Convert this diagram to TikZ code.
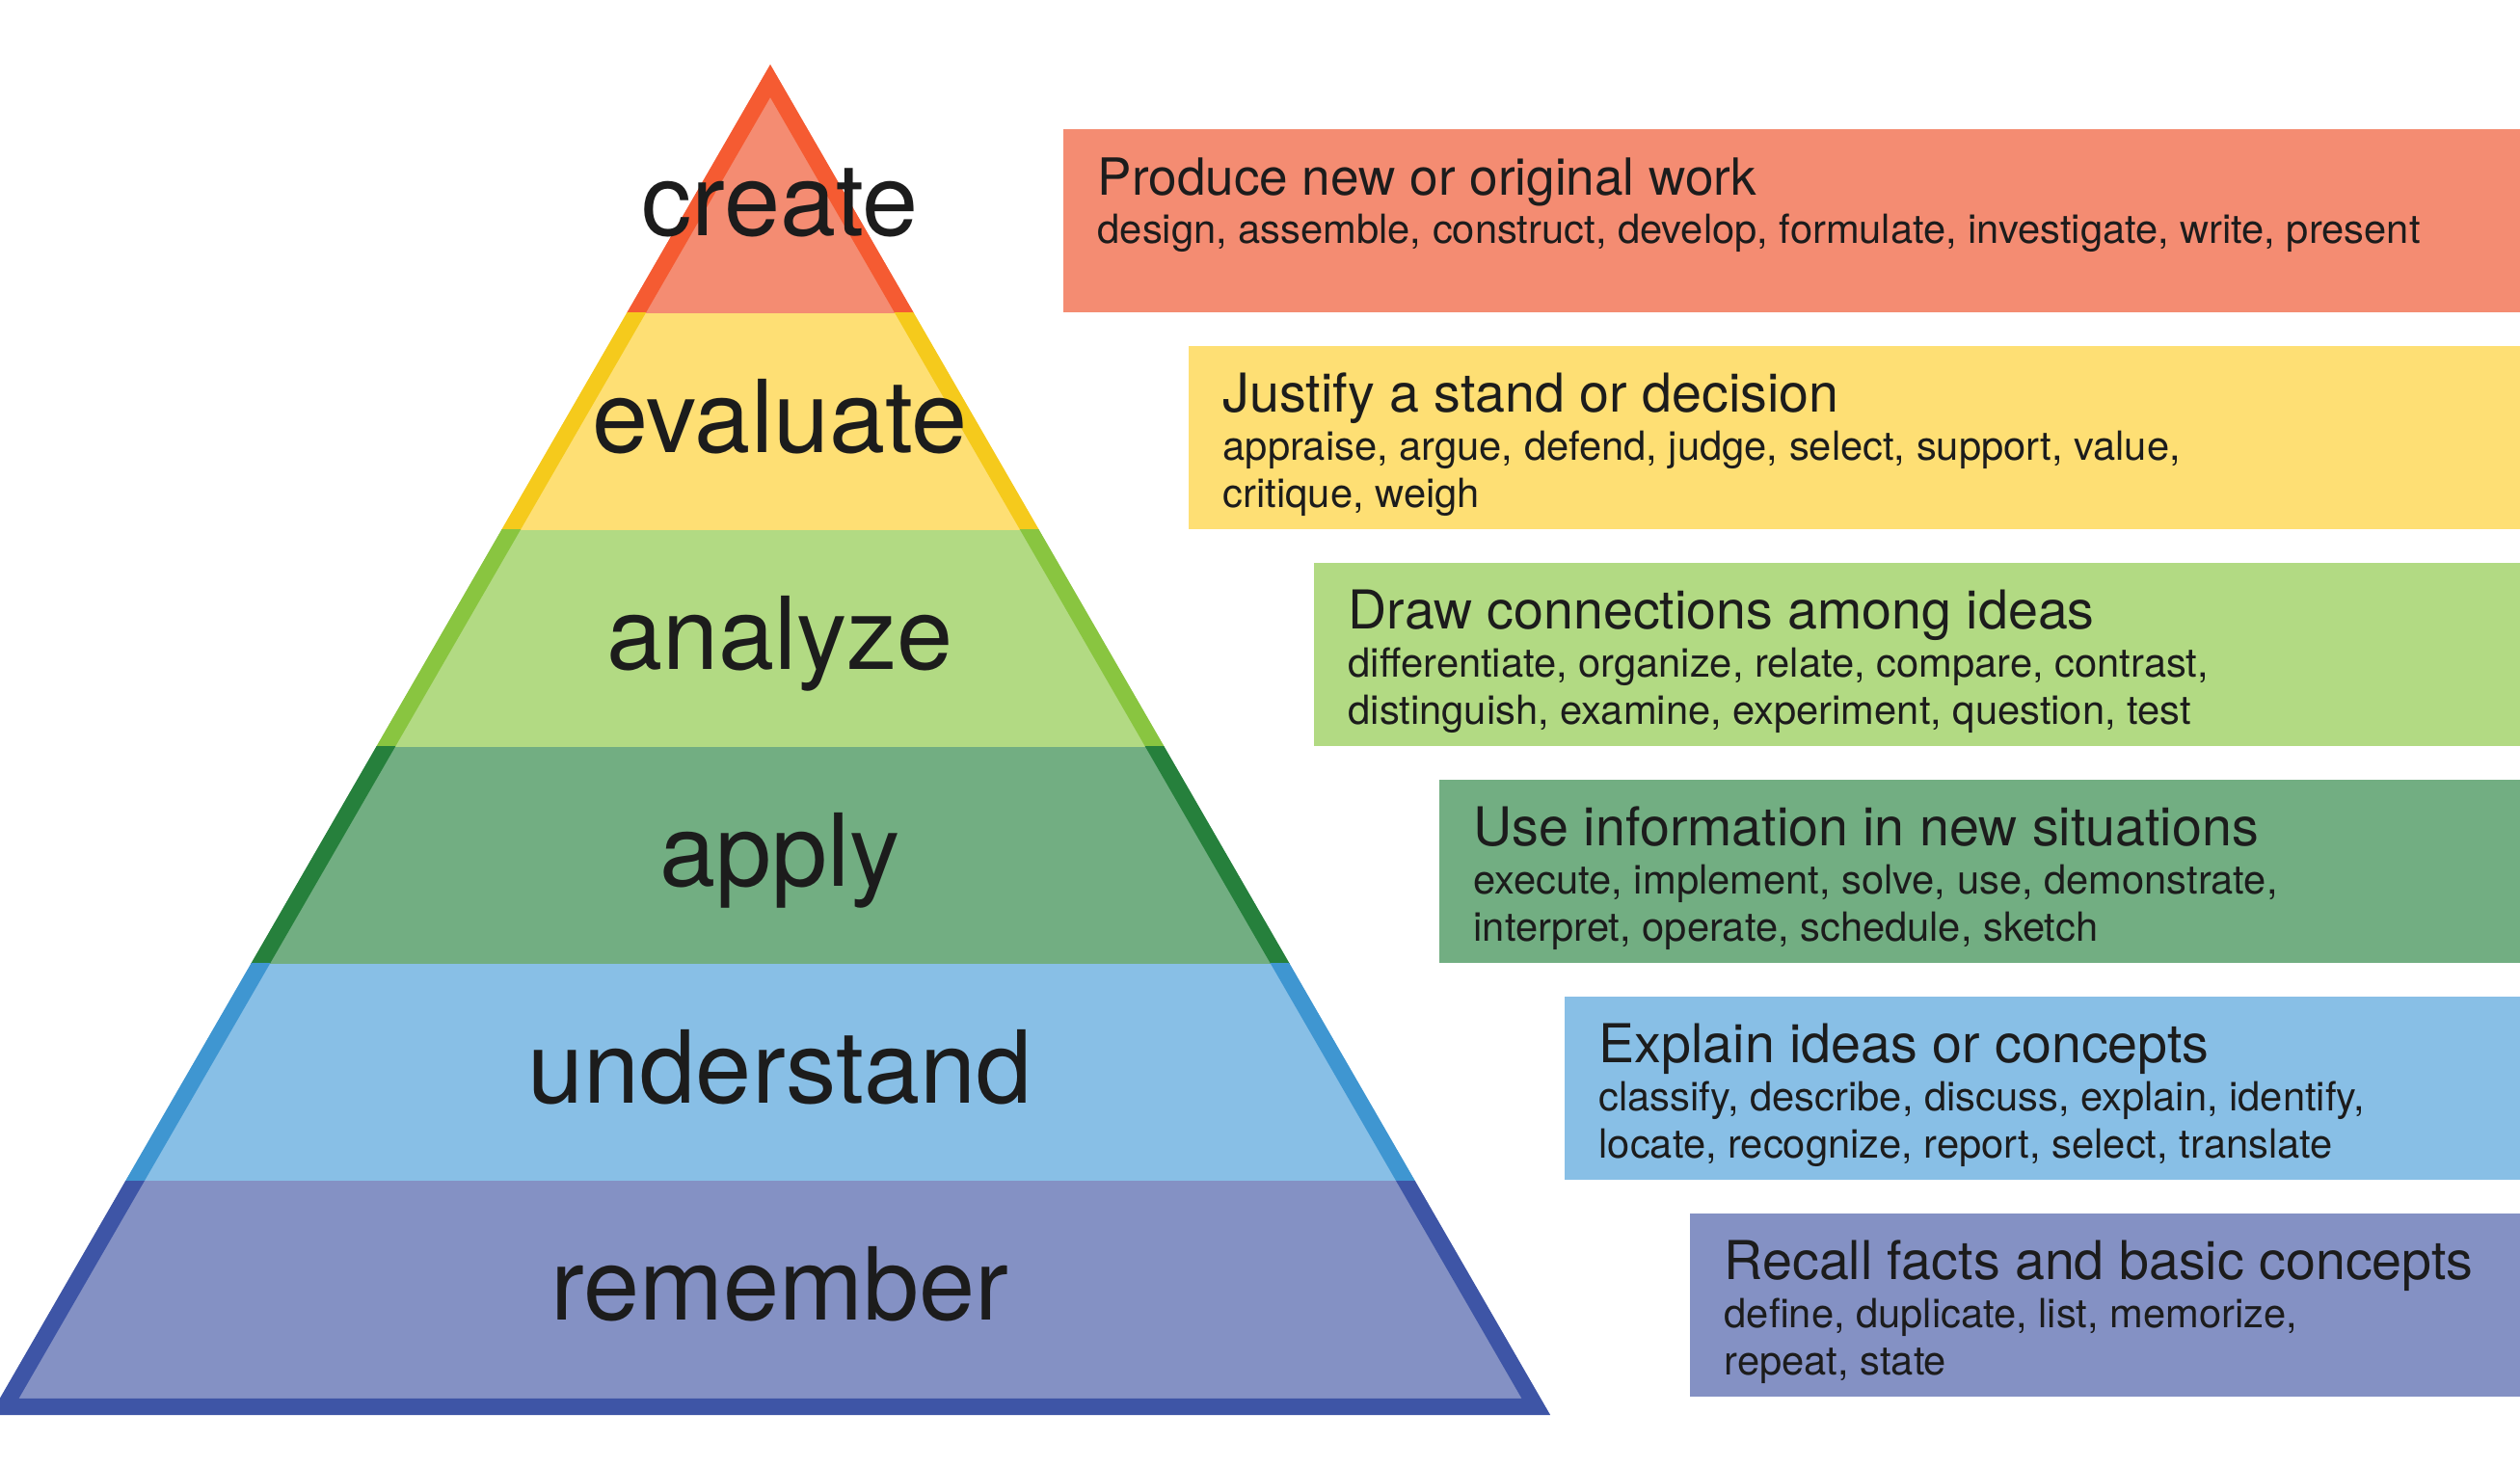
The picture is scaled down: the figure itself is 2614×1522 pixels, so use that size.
\documentclass[tikz,border=0pt]{standalone}
\usepackage{fontspec}
\setmainfont{TeX Gyre Heros}
\usetikzlibrary{
    calc,
    positioning
}
\definecolor{ink}{HTML}{1C1C1C}
\definecolor{createfill}{HTML}{F48C72}
\definecolor{createline}{HTML}{F55B32}
\definecolor{evaluatefill}{HTML}{FEDF74}
\definecolor{evaluateline}{HTML}{F5CA1C}
\definecolor{analyzefill}{HTML}{B2DA83}
\definecolor{analyzeline}{HTML}{89C540}
\definecolor{applyfill}{HTML}{72AE82}
\definecolor{applyline}{HTML}{26803C}
\definecolor{understandfill}{HTML}{88BFE6}
\definecolor{understandline}{HTML}{3F96D1}
\definecolor{rememberfill}{HTML}{8491C4}
\definecolor{rememberline}{HTML}{3E55A6}
\tikzset{
  level label/.style={
    font=\fontsize{29.7}{35}\selectfont,
    text=ink,
    anchor=base,
    inner sep=0pt
  },
  desc box/.style={
    anchor=south west,
    minimum height=1.90cm,
    inner sep=0pt
  },
  desc title/.style={
    font=\fontsize{#1}{18}\selectfont,
    text=ink,
    anchor=base west,
    inner sep=0pt
  },
  desc list/.style={
    font=\fontsize{11.85}{13.94}\selectfont,
    text=ink,
    align=left,
    inner sep=0pt
  }
}

\begin{document}
\begin{tikzpicture}[x=0.01cm,y=-0.01cm]
    \useasboundingbox (0,0) rectangle (2614,1522);

    % ピラミッドの各段
    \foreach \name/\top/\bot/\base/\fc/\lc in {
        create/0/325/245/createfill/createline,
        evaluate/325/550/469.5/evaluatefill/evaluateline,
        analyze/550/775/694.5/analyzefill/analyzeline,
        apply/775/1000/919.5/applyfill/applyline,
        understand/1000/1225/1144.5/understandfill/understandline,
        remember/1225/1468/1369.5/rememberfill/rememberline}{
        \begin{scope}
            \clip (-20,\top) rectangle (1630,\bot);
            \clip (799,67) -- (1608,1468) -- (-10,1468) -- cycle;
            \fill[\fc] (-20,\top) rectangle (1630,\bot);
            \draw[\lc,line width=0.34cm] (799,67) -- (1608,1468) -- (-10,1468) -- cycle;
        \end{scope}
        \node[level label] (l\name) at (809,\base) {\name};
    }

    % 右側の説明
    \foreach \name/\bx/\by/\fc/\ts/\title/\words in {
        create/1102/325/createfill/15.1/{Produce new or original work}/{design, assemble, construct, develop, formulate, investigate, write, present},
        evaluate/1232/550/evaluatefill/15.8/{Justify a stand or decision}/{appraise, argue, defend, judge, select, support, value,\\critique, weigh},
        analyze/1362/775/analyzefill/15.8/{Draw connections among ideas}/{differentiate, organize, relate, compare, contrast,\\distinguish, examine, experiment, question, test},
        apply/1492/1000/applyfill/15.8/{Use information in new situations}/{execute, implement, solve, use, demonstrate,\\interpret, operate, schedule, sketch},
        understand/1622/1225/understandfill/15.8/{Explain ideas or concepts}/{classify, describe, discuss, explain, identify,\\locate, recognize, report, select, translate},
        remember/1752/1450/rememberfill/15.8/{Recall facts and basic concepts}/{define, duplicate, list, memorize,\\repeat, state}}{
        \node[desc box,fill=\fc,minimum width={(2620-\bx)*0.01cm}] (d\name) at (\bx,\by) {};
        \node[desc title=\ts] (t\name) at ($(d\name.north west)+(36,69)$) {\title};
        \node[desc list,below right=0.147cm and 0cm of t\name.base west] (w\name) {\strut\words};
    }
\end{tikzpicture}
\end{document}
